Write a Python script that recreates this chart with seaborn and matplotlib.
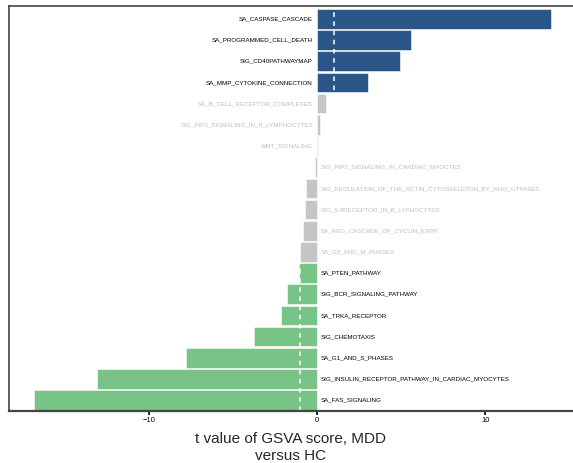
import pandas as pd
import seaborn as sns
import matplotlib.pyplot as plt

# gene sets and t values, top to bottom
pathways = [
    "SA_CASPASE_CASCADE", "SA_PROGRAMMED_CELL_DEATH", "SIG_CD40PATHWAYMAP",
    "SA_MMP_CYTOKINE_CONNECTION", "SA_B_CELL_RECEPTOR_COMPLEXES",
    "SIG_PIP3_SIGNALING_IN_B_LYMPHOCYTES", "WNT_SIGNALING",
    "SIG_PIP3_SIGNALING_IN_CARDIAC_MYOCTES",
    "SIG_REGULATION_OF_THE_ACTIN_CYTOSKELETON_BY_RHO_GTPASES",
    "SIG_IL4RECEPTOR_IN_B_LYPHOCYTES", "SA_REG_CASCADE_OF_CYCLIN_EXPR",
    "SA_G2_AND_M_PHASES", "SA_PTEN_PATHWAY", "SIG_BCR_SIGNALING_PATHWAY",
    "SA_TRKA_RECEPTOR", "SIG_CHEMOTAXIS", "SA_G1_AND_S_PHASES",
    "SIG_INSULIN_RECEPTOR_PATHWAY_IN_CARDIAC_MYOCYTES", "SA_FAS_SIGNALING",
]
t_values = [13.9, 5.6, 4.9, 3.0, 0.5, 0.2, 0.03, -0.12, -0.65, -0.7, -0.85,
            -1.0, -1.1, -1.8, -2.15, -3.75, -7.8, -13.05, -16.8]
groups = ["up"] * 4 + ["ns"] * 8 + ["down"] * 7

colors = {"up": "#2b5688", "ns": "#c6c4c6", "down": "#77c486"}
label_colors = {"up": "black", "ns": "#bdbdbd", "down": "black"}

df = pd.DataFrame({"pathway": pathways, "t": t_values, "group": groups})

sns.set_style("white")
plt.rcParams['font.family'] = ['Liberation Sans', 'DejaVu Sans']

fig = plt.figure(figsize=(5.73, 4.63), dpi=100)
ax = fig.add_axes([0.0157, 0.112, 0.9843, 0.875])

sns.barplot(data=df, x="t", y="pathway", hue="group", palette=colors,
            orient="h", dodge=False, width=0.93, legend=False, saturation=1,
            edgecolor="white", linewidth=0.4, ax=ax)

# threshold lines
ax.axvline(1, color="white", ls=(0, (3, 3)), lw=1.1)
ax.axvline(-1, color="white", ls=(0, (3, 3)), lw=1.1)

# labels next to zero, on the side opposite to the bar
for i, row in df.iterrows():
    if row["t"] >= 0:
        ax.text(-0.25, i, row["pathway"], ha="right", va="center",
                fontsize=4.5, color=label_colors[row["group"]])
    else:
        ax.text(0.2, i, row["pathway"], ha="left", va="center",
                fontsize=4.5, color=label_colors[row["group"]])

ax.set_xlim(-18.3, 15.2)
ax.set_ylim(18.52, -0.61)
ax.set_yticks([])
ax.set_ylabel("")
ax.set_xticks([-10, 0, 10])
ax.set_xticklabels(["\u221210", "0", "10"])
ax.tick_params(axis="x", labelsize=5.5, length=3, width=1.2, pad=1,
               direction="out", bottom=True, colors="black")
ax.set_xlabel("t value of GSVA score, MDD\nversus HC", fontsize=11,
              labelpad=6, linespacing=1.3)

for s in ["top", "bottom", "left"]:
    ax.spines[s].set_color("#444444")
ax.spines["top"].set_linewidth(1.2)
ax.spines["bottom"].set_linewidth(1.6)
ax.spines["left"].set_linewidth(1.2)
ax.spines["right"].set_visible(False)

plt.savefig("out.png", dpi=100)
